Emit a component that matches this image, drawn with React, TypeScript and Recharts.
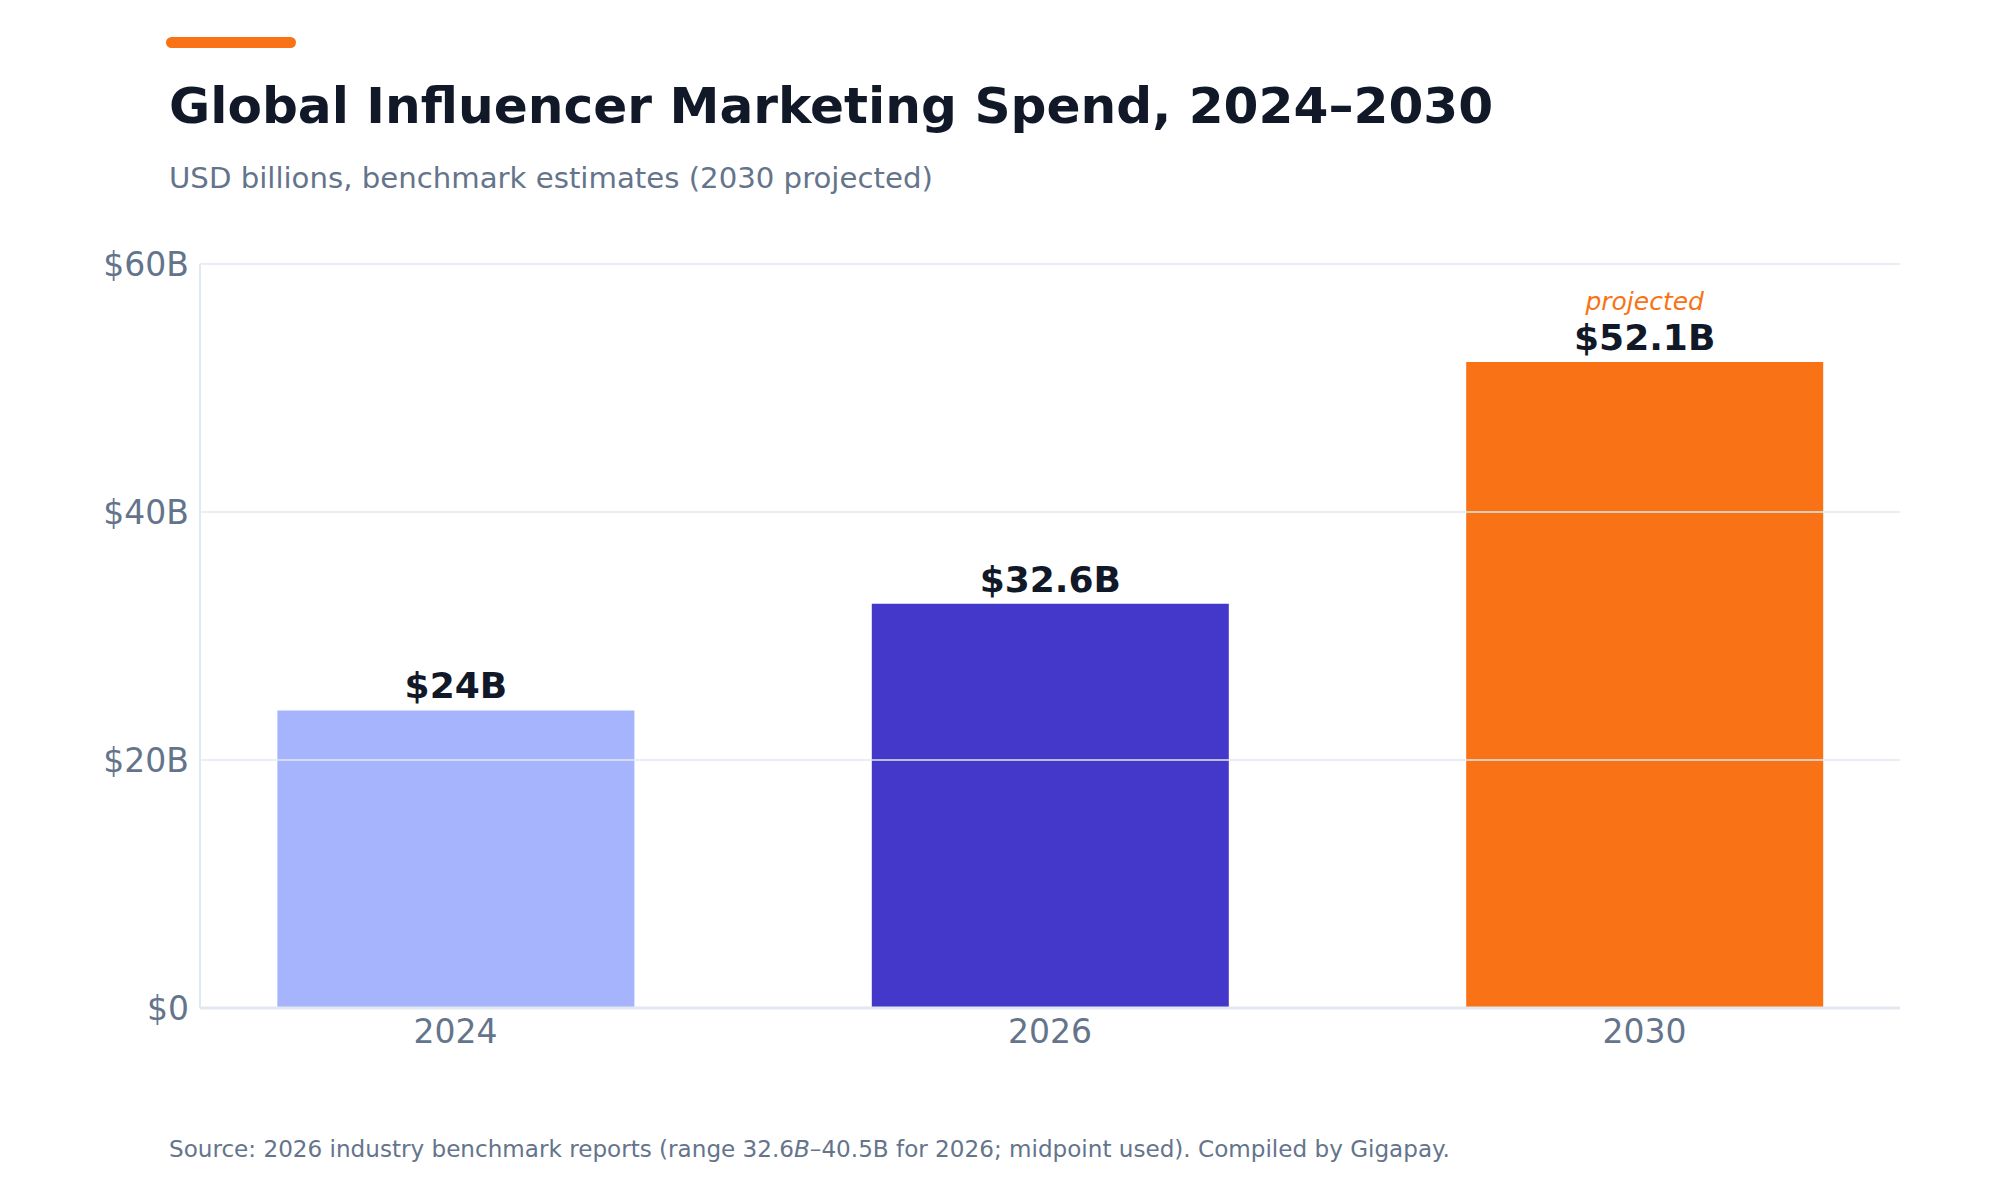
import React from "react";
import { Bar, BarChart, Cell, LabelList, ReferenceLine, XAxis, YAxis } from "recharts";

const years = ["2024", "2026", "2030"];
const spend = [24, 32.6, 52.1];
const barColors = ["#a5b4fc", "#4338ca", "#f97316"];
const projected = [false, false, true];
const yTicks = [0, 20, 40, 60];

const data = years.map((year, i) => ({ idx: i, year, spend: spend[i] }));

const FONT = "'DejaVu Sans', sans-serif";
const SLATE = "#64748b";

const fmtMoney = (v: number) => (v === 0 ? "$0" : `$${v}B`);

const BarLabel = (props: any) => {
  const { x, y, width, value, index } = props;
  const cx = x + width / 2;
  return (
    <g>
      {projected[index] && (
        <text x={cx} y={y - 52} textAnchor="middle" fontFamily={FONT} fontSize={25} fontStyle="italic" fill="#f97316">
          projected
        </text>
      )}
      <text x={cx} y={y - 12} textAnchor="middle" fontFamily={FONT} fontSize={36} fontWeight={700} fill="#111827">
        {fmtMoney(value)}
      </text>
    </g>
  );
};

export default function App() {
  return (
    <div style={{ position: "absolute", left: 0, top: 0, width: 2000, height: 1200, background: "#fff" }}>
      <BarChart
        width={2000}
        height={1200}
        data={data}
        margin={{ top: 264, right: 100, bottom: 132, left: 120 }}
        style={{ position: "absolute", left: 0, top: 0 }}>
        <XAxis
          dataKey="idx"
          type="number"
          domain={[-0.43, 2.43]}
          ticks={[0, 1, 2]}
          allowDataOverflow
          tickFormatter={(i) => years[i]}
          height={60}
          tickSize={0}
          tickMargin={12}
          axisLine={{ stroke: "#e2e8f0", strokeWidth: 3 }}
          tick={{ fill: SLATE, fontSize: 33, fontFamily: FONT }}
        />
        <YAxis
          domain={[0, 60]}
          ticks={yTicks}
          width={80}
          tickSize={0}
          tickMargin={11}
          tickFormatter={fmtMoney}
          axisLine={{ stroke: "#e2e8f0", strokeWidth: 2 }}
          tick={{ fill: SLATE, fontSize: 33, fontFamily: FONT }}
        />
        <Bar dataKey="spend" barSize={357} isAnimationActive={false}>
          {data.map((d, i) => (
            <Cell key={d.year} fill={barColors[i]} />
          ))}
          <LabelList dataKey="spend" content={BarLabel} />
        </Bar>
        {yTicks
          .filter((t) => t > 0)
          .map((t) => (
            <ReferenceLine key={t} y={t} stroke="#e2e8f0" strokeWidth={1.5} />
          ))}
      </BarChart>
      <svg width={2000} height={1200} style={{ position: "absolute", left: 0, top: 0, pointerEvents: "none" }}>
        <rect x={166} y={37} width={130} height={11} rx={5.5} fill="#f97316" />
        <text x={169} y={123} fontFamily={FONT} fontSize={50.2} fontWeight={700} fill="#111827">
          Global Influencer Marketing Spend, 2024–2030
        </text>
        <text x={169} y={188} fontFamily={FONT} fontSize={29.2} fill={SLATE}>
          USD billions, benchmark estimates (2030 projected)
        </text>
        <text x={169} y={1157} fontFamily={FONT} fontSize={23.1} fill={SLATE}>
          Source: 2026 industry benchmark reports (range 32.6<tspan fontStyle="italic">B</tspan>–40.5B for 2026; midpoint
          used). Compiled by Gigapay.
        </text>
      </svg>
    </div>
  );
}
